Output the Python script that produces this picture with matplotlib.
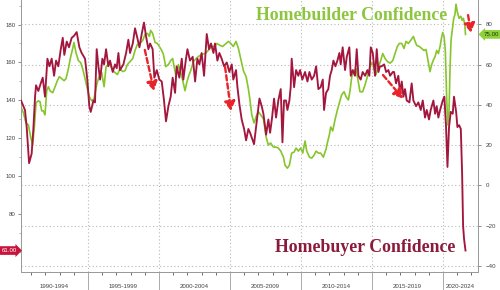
import matplotlib
matplotlib.use("Agg")
import matplotlib.pyplot as plt
from matplotlib.transforms import blended_transform_factory

# ---------------- data ----------------
buyer_t = [1990.28, 1990.56, 1990.68, 1990.85, 1991.03, 1991.15, 1991.27, 1991.34, 1991.50, 1991.67,
           1991.81, 1991.97, 1992.14, 1992.28, 1992.44, 1992.61, 1992.75, 1992.91, 1993.08, 1993.22,
           1993.33, 1993.50, 1993.66, 1993.85, 1994.01, 1994.20, 1994.39, 1994.55, 1994.79, 1994.95,
           1995.09, 1995.19, 1995.38, 1995.49, 1995.61, 1995.73, 1995.85, 1996.01, 1996.13, 1996.27,
           1996.43, 1996.55, 1996.74, 1996.90, 1997.02, 1997.14, 1997.25, 1997.49, 1997.68, 1997.84,
           1997.96, 1998.15, 1998.31, 1998.47, 1998.62, 1998.78, 1998.94, 1999.08, 1999.25, 1999.37,
           1999.55, 1999.67, 1999.84, 2000.02, 2000.19, 2000.35, 2000.49, 2000.66, 2000.82, 2000.96,
           2001.13, 2001.24, 2001.43, 2001.60, 2001.71, 2001.88, 2002.00, 2002.18, 2002.37, 2002.54,
           2002.70, 2002.84, 2003.00, 2003.17, 2003.36, 2003.52, 2003.66, 2003.83, 2003.94, 2004.11,
           2004.25, 2004.41, 2004.58, 2004.77, 2004.95, 2005.12, 2005.23, 2005.42, 2005.52, 2005.66,
           2005.82, 2005.99, 2006.13, 2006.29, 2006.41, 2006.69, 2006.88, 2007.07, 2007.23, 2007.35,
           2007.54, 2007.70, 2007.82, 2007.96, 2008.10, 2008.24, 2008.40, 2008.57, 2008.69, 2008.80,
           2008.94, 2009.04, 2009.18, 2009.27, 2009.34, 2009.51, 2009.65, 2009.81, 2009.93, 2010.09,
           2010.28, 2010.45, 2010.59, 2010.75, 2010.92, 2011.06, 2011.22, 2011.38, 2011.53, 2011.62,
           2011.76, 2011.92, 2012.04, 2012.16, 2012.28, 2012.42, 2012.56, 2012.70, 2012.79, 2012.93,
           2013.10, 2013.22, 2013.40, 2013.50, 2013.64, 2013.80, 2013.92, 2014.04, 2014.20, 2014.34,
           2014.51, 2014.67, 2014.81, 2014.91, 2015.05, 2015.21, 2015.33, 2015.45, 2015.56, 2015.68,
           2015.85, 2015.99, 2016.15, 2016.27, 2016.46, 2016.55, 2016.69, 2016.85, 2016.97, 2017.09,
           2017.21, 2017.32, 2017.44, 2017.63, 2017.79, 2017.91, 2018.10, 2018.26, 2018.43, 2018.57,
           2018.73, 2018.85, 2019.01, 2019.13, 2019.32, 2019.44, 2019.55, 2019.67, 2019.79, 2019.98,
           2020.09, 2020.21, 2020.31, 2020.42, 2020.54, 2020.68, 2020.77, 2020.92, 2021.01, 2021.13,
           2021.25, 2021.34, 2021.41, 2021.48, 2021.58]
buyer_v = [140, 135, 126, 107, 112, 125, 142, 148, 145, 149,
           152, 142, 162, 158, 162, 153, 161, 158, 167, 173,
           164, 171, 168, 173, 174, 176, 168, 165, 162, 151,
           137, 134, 140, 139, 167, 158, 151, 162, 159, 167,
           158, 161, 155, 159, 157, 165, 156, 159, 165, 172,
           165, 170, 178, 173, 168, 175, 181, 174, 167, 170,
           167, 152, 156, 151, 150, 140, 129, 137, 142, 152,
           144, 158, 152, 162, 151, 161, 167, 161, 163, 150,
           162, 159, 165, 153, 175, 167, 170, 165, 170, 161,
           165, 162, 158, 160, 155, 159, 151, 156, 147, 138,
           130, 125, 119, 125, 123, 117, 129, 141, 137, 133,
           122, 130, 123, 131, 141, 131, 140, 146, 118, 140,
           140, 135, 140, 147, 162, 147, 156, 153, 156, 151,
           155, 150, 155, 151, 153, 158, 146, 147, 151, 135,
           144, 146, 153, 156, 161, 158, 161, 165, 159, 168,
           156, 163, 168, 153, 156, 153, 167, 153, 151, 155,
           153, 156, 153, 168, 165, 153, 167, 155, 158, 158,
           159, 155, 156, 153, 155, 155, 149, 153, 144, 150,
           142, 146, 140, 139, 149, 140, 137, 139, 135, 140,
           131, 135, 130, 135, 140, 133, 137, 131, 135, 140,
           142, 126, 105, 126, 134, 133, 142, 134, 126, 127,
           125, 102, 74, 67, 61]

builder_t = [1990.28, 1990.45, 1990.63, 1990.80, 1990.96, 1991.10, 1991.22, 1991.34, 1991.50, 1991.62,
             1991.74, 1991.85, 1991.97, 1992.09, 1992.21, 1992.32, 1992.51, 1992.68, 1992.84, 1992.98,
             1993.15, 1993.31, 1993.45, 1993.62, 1993.78, 1993.92, 1994.01, 1994.15, 1994.32, 1994.48,
             1994.62, 1994.79, 1994.95, 1995.09, 1995.26, 1995.42, 1995.61, 1995.73, 1995.85, 1995.96,
             1996.13, 1996.27, 1996.43, 1996.55, 1996.74, 1996.90, 1997.07, 1997.25, 1997.44, 1997.61,
             1997.77, 1997.96, 1998.15, 1998.31, 1998.47, 1998.66, 1998.85, 1999.01, 1999.18, 1999.32,
             1999.41, 1999.55, 1999.72, 1999.88, 2000.02, 2000.19, 2000.31, 2000.47, 2000.66, 2000.82,
             2000.96, 2001.06, 2001.20, 2001.36, 2001.53, 2001.67, 2001.83, 2001.95, 2002.07, 2002.23,
             2002.42, 2002.61, 2002.77, 2003.00, 2003.24, 2003.47, 2003.71, 2003.94, 2004.06, 2004.30,
             2004.48, 2004.72, 2004.88, 2005.05, 2005.23, 2005.42, 2005.59, 2005.75, 2005.94, 2006.13,
             2006.29, 2006.41, 2006.53, 2006.69, 2006.88, 2007.00, 2007.16, 2007.35, 2007.54, 2007.70,
             2007.86, 2008.05, 2008.24, 2008.40, 2008.57, 2008.76, 2008.87, 2009.04, 2009.18, 2009.34,
             2009.51, 2009.65, 2009.81, 2009.98, 2010.12, 2010.28, 2010.40, 2010.59, 2010.75, 2010.92,
             2011.06, 2011.22, 2011.38, 2011.57, 2011.76, 2011.85, 2011.99, 2012.09, 2012.23, 2012.39,
             2012.56, 2012.70, 2012.86, 2013.03, 2013.17, 2013.33, 2013.45, 2013.57, 2013.73, 2013.87,
             2014.04, 2014.15, 2014.34, 2014.51, 2014.67, 2014.81, 2014.98, 2015.14, 2015.28, 2015.45,
             2015.61, 2015.75, 2015.92, 2016.08, 2016.27, 2016.46, 2016.62, 2016.78, 2016.92, 2017.09,
             2017.25, 2017.39, 2017.56, 2017.72, 2017.91, 2018.03, 2018.15, 2018.33, 2018.50, 2018.66,
             2018.80, 2018.97, 2019.08, 2019.20, 2019.32, 2019.44, 2019.55, 2019.67, 2019.79, 2019.91,
             2019.98, 2020.07, 2020.16, 2020.26, 2020.33, 2020.42, 2020.49, 2020.56, 2020.66, 2020.75,
             2020.84, 2020.91, 2021.01, 2021.13, 2021.25, 2021.34, 2021.43, 2021.53, 2021.58]
builder_v = [39, 36, 31, 30, 24, 20, 29, 41, 42, 41.5,
             37, 37, 35, 47, 49, 47, 46, 49, 52, 54,
             53, 52, 53, 58, 64, 68, 71, 66, 62, 61,
             58, 53, 48, 44, 42, 43, 50, 53, 55, 56,
             49, 59, 60, 60, 57, 56, 55, 58, 56.5, 57,
             60, 61.5, 63, 67, 70, 70.5, 72, 75, 75.5, 74,
             77, 75.5, 71, 70.5, 69, 67, 65, 59, 60, 62,
             63, 59, 54, 60, 56, 52, 47, 51, 54, 57,
             61.5, 63, 64, 65, 65.5, 67, 69, 69, 70.5, 69.5,
             69, 70.5, 71.5, 70.5, 69, 71.5, 68, 63, 57, 54,
             48, 42, 35, 31, 35, 36.5, 35, 33, 24, 20,
             21, 19, 19, 18.5, 17, 14, 10, 8.5, 10, 16,
             16.5, 18.5, 17, 18.5, 16, 22, 17, 14, 13.5, 15,
             17, 16, 16, 14, 18, 21, 25, 29, 27, 32.5,
             37.5, 41, 45, 46.5, 44, 42.4, 47, 54, 57, 58,
             51, 46.5, 46.5, 50, 54, 58, 61, 58, 55, 59,
             62, 65.5, 63, 61.5, 60.7, 62, 65.5, 69, 70.5, 70.5,
             68, 71.5, 70.5, 72, 74, 71.5, 69.5, 69, 68, 67,
             67.5, 61, 56.5, 60, 62.3, 64, 67, 65.5, 69, 74,
             76, 74, 67, 42, 30, 37, 58, 72, 78, 83,
             85, 90, 86, 83, 84, 82, 83, 80, 75]

periods = ["1990-1994", "1995-1999", "2000-2004", "2005-2009", "2010-2014", "2015-2019", "2020-2024"]
period_starts = [1990, 1995, 2000, 2005, 2010, 2015, 2020]
left_ticks = [80, 100, 120, 140, 160, 180]
right_ticks = [-40, -20, 0, 20, 40, 60, 80]

# arrows: (axis, x0, y0, x1, y1)
arrows = [("L", 1999.0, 166.6, 1999.65, 145.0),
          ("L", 2004.65, 157.6, 2005.07, 134.5),
          ("L", 2015.77, 153.4, 2017.18, 141.0),
          ("R", 2021.76, 84.6, 2021.97, 75.8)]

RED = "#a3173e"
GREEN = "#86c52c"
ARROW = "#e8232a"
GRID = "#b8b8b8"
SPINE = "#9a9a9a"
TXT = "#444444"

plt.rcParams['font.family'] = ['Liberation Sans', 'DejaVu Sans']

fig = plt.figure(figsize=(5, 2.9), dpi=100)
fig.patch.set_facecolor("white")
ax = fig.add_axes([21 / 500, 18 / 290, 457 / 500, 272 / 290])
ax2 = ax.twinx()
ax.set_zorder(ax2.get_zorder() + 1)
ax.patch.set_visible(False)

xmin, xmax = 1990.28, 2022.46
ax.set_xlim(xmin, xmax)
ax.set_ylim(49.7, 192.9)
ax2.set_ylim(-43.1, 92.1)

ax2.plot(builder_t, builder_v, color=GREEN, lw=1.2, solid_joinstyle="round", zorder=3)
ax.plot(buyer_t, buyer_v, color=RED, lw=1.35, solid_joinstyle="round", zorder=3)

# grid
ax2.set_yticks(right_ticks)
ax2.yaxis.grid(True, linestyle=(0, (1, 2.2)), color=GRID, lw=0.8)
ax2.set_axisbelow(True)
ax.set_xticks(period_starts[1:])
ax.set_xticks(range(1991, 2023), minor=True)
ax.xaxis.grid(True, which="major", linestyle=(0, (1, 2.2)), color=GRID, lw=0.8)
ax.tick_params(axis="x", which="major", length=13, width=0.7, color="#aaaaaa", labelbottom=False)
ax.tick_params(axis="x", which="minor", length=2.2, width=0.6, color="#555555")

ax.set_yticks(left_ticks)
ax.set_yticks(range(60, 191, 10), minor=True)
ax.tick_params(axis="y", which="major", length=2.5, width=0.6, color="#777777",
               labelsize=4.4, labelcolor=TXT, pad=1.5)
ax.tick_params(axis="y", which="minor", length=1.5, width=0.5, color="#999999")
ax2.tick_params(axis="y", length=2.5, width=0.6, color="#777777", labelsize=4.4,
                labelcolor=TXT, pad=3)

for a in (ax, ax2):
    a.spines["top"].set_visible(False)
    for s in ("left", "right", "bottom"):
        a.spines[s].set_color(SPINE)
        a.spines[s].set_linewidth(0.7)

# period labels
trans = blended_transform_factory(ax.transData, ax.transAxes)
for lab, st in zip(periods, period_starts):
    lo, hi = max(st, xmin), min(st + 5, xmax)
    ax.text((lo + hi) / 2, -0.052, lab, transform=trans, ha="center", va="center",
            fontsize=4.4, color=TXT)

# arrows
for side, x0, y0, x1, y1 in arrows:
    a = ax if side == "L" else ax2
    a.annotate("", xy=(x1, y1), xytext=(x0, y0),
               arrowprops=dict(arrowstyle="-|>,head_length=0.55,head_width=0.32",
                               linestyle=(0, (2.2, 1.3)), color=ARROW, lw=1.7,
                               shrinkA=0, shrinkB=0),
               zorder=6)

# value tags
ax.annotate(f"{buyer_v[-1]:.2f}", xy=(0, buyer_v[-1]), xycoords=("axes fraction", "data"),
            xytext=(-8.3, 0), textcoords="offset points", ha="center", va="center",
            fontsize=4.4, color="white",
            bbox=dict(boxstyle="rarrow,pad=0.3", fc="#c8143a", ec="none"),
            annotation_clip=False, zorder=8)
ax2.annotate(f"{builder_v[-1]:.2f}", xy=(1, builder_v[-1]), xycoords=("axes fraction", "data"),
             xytext=(9.4, 0), textcoords="offset points", ha="center", va="center",
             fontsize=4.4, color="#1d3a05",
             bbox=dict(boxstyle="larrow,pad=0.3", fc="#8fd13a", ec="none"),
             annotation_clip=False, zorder=8)

# series titles
fig.text(256 / 500, 1 - 15 / 290, "Homebuilder Confidence", ha="left", va="center",
         fontsize=12.8, color="#8cc63f", family=["Liberation Serif", "DejaVu Serif"],
         fontweight="bold")
fig.text(275 / 500, 1 - 248 / 290, "Homebuyer Confidence", ha="left", va="center",
         fontsize=12.8, color="#8b1a3c", family=["Liberation Serif", "DejaVu Serif"],
         fontweight="bold")

fig.savefig("out.png", dpi=100, facecolor="white")
